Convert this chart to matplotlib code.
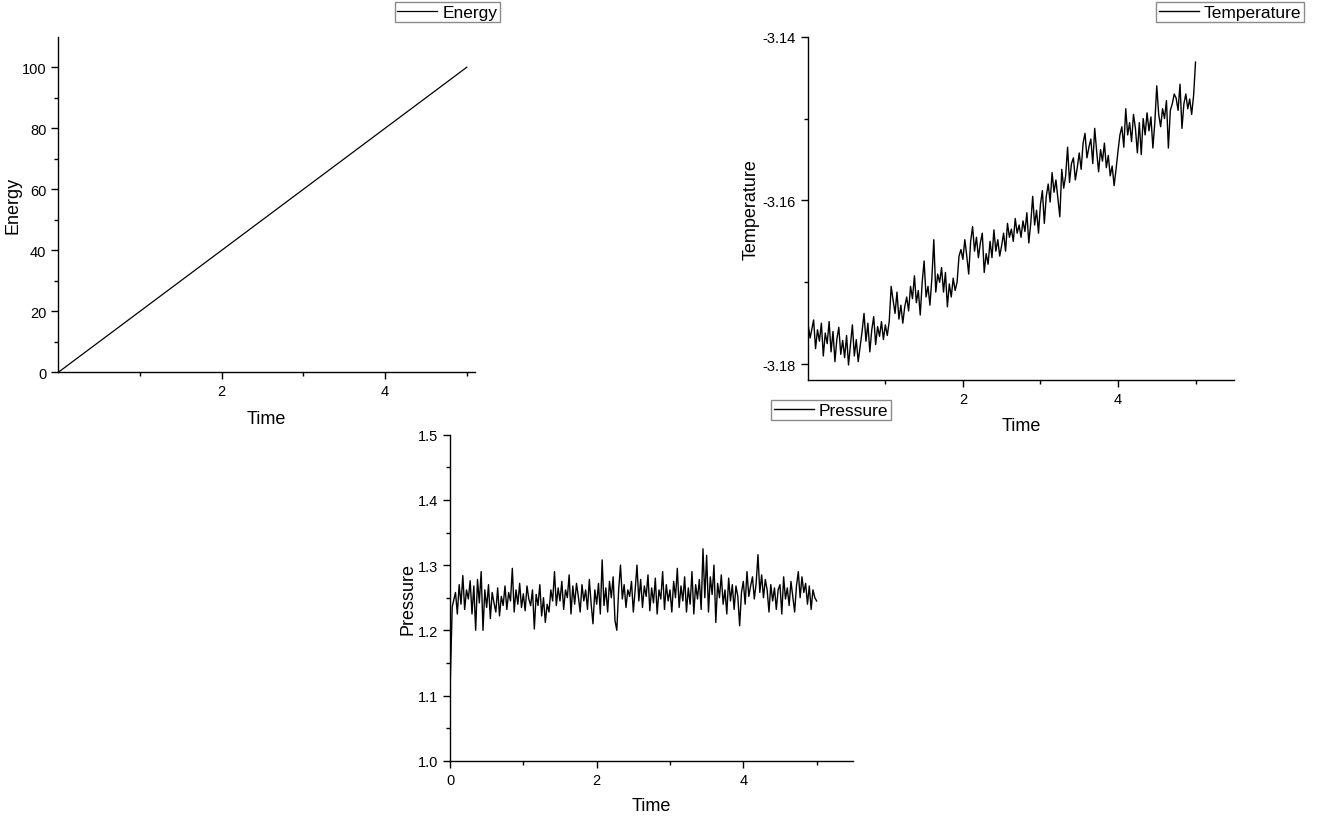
import matplotlib
matplotlib.use("Agg")
import matplotlib.pyplot as plt
from matplotlib.ticker import FixedLocator

plt.rcParams['font.family'] = ['Liberation Sans', 'DejaVu Sans']

# data
energy_time = [0.0, 5.0]
energy = [0.0, 100.0]

# first samples sit right on the axis (start-up spike)
step_time = [0.0, 0.004, 0.03] + [i * 0.025 for i in range(3, 201)]

temperature = [
    -3.1607, -3.1752, -3.1768, -3.1746, -3.1781, -3.1758, -3.1772, -3.1750, -3.1790, -3.1762,
    -3.1775, -3.1748, -3.1785, -3.1760, -3.1797, -3.1769, -3.1755, -3.1788, -3.1771, -3.1792,
    -3.1765, -3.1801, -3.1776, -3.1752, -3.1790, -3.1770, -3.1797, -3.1779, -3.1760, -3.1738,
    -3.1772, -3.1750, -3.1785, -3.1758, -3.1742, -3.1776, -3.1754, -3.1766, -3.1748, -3.1770,
    -3.1752, -3.1765, -3.1748, -3.1705, -3.1722, -3.1738, -3.1712, -3.1745, -3.1728, -3.1750,
    -3.1730, -3.1718, -3.1735, -3.1705, -3.1720, -3.1692, -3.1725, -3.1710, -3.1740, -3.1700,
    -3.1674, -3.1718, -3.1705, -3.1728, -3.1695, -3.1648, -3.1712, -3.1690, -3.1700, -3.1682,
    -3.1712, -3.1688, -3.1730, -3.1702, -3.1718, -3.1695, -3.1710, -3.1700, -3.1668, -3.1660,
    -3.1672, -3.1648, -3.1668, -3.1690, -3.1650, -3.1632, -3.1662, -3.1645, -3.1670, -3.1652,
    -3.1640, -3.1688, -3.1665, -3.1678, -3.1650, -3.1670, -3.1636, -3.1662, -3.1648, -3.1668,
    -3.1655, -3.1640, -3.1662, -3.1628, -3.1645, -3.1635, -3.1650, -3.1622, -3.1640, -3.1630,
    -3.1645, -3.1625, -3.1638, -3.1615, -3.1652, -3.1628, -3.1595, -3.1630, -3.1612, -3.1640,
    -3.1605, -3.1588, -3.1628, -3.1595, -3.1580, -3.1602, -3.1566, -3.1590, -3.1575, -3.1598,
    -3.1620, -3.1562, -3.1585, -3.1570, -3.1535, -3.1578, -3.1555, -3.1548, -3.1575, -3.1560,
    -3.1542, -3.1562, -3.1530, -3.1518, -3.1548, -3.1535, -3.1525, -3.1555, -3.1512, -3.1540,
    -3.1565, -3.1538, -3.1552, -3.1530, -3.1560, -3.1545, -3.1570, -3.1558, -3.1582, -3.1562,
    -3.1540, -3.1520, -3.1510, -3.1535, -3.1488, -3.1520, -3.1505, -3.1528, -3.1495, -3.1512,
    -3.1542, -3.1505, -3.1544, -3.1500, -3.1520, -3.1493, -3.1515, -3.1498, -3.1536, -3.1505,
    -3.1460, -3.1495, -3.1510, -3.1488, -3.1500, -3.1478, -3.1536, -3.1490, -3.1482, -3.1470,
    -3.1475, -3.1490, -3.1458, -3.1512, -3.1482, -3.1470, -3.1488, -3.1476, -3.1495, -3.1472,
    -3.1431,
]

pressure = [
    1.388, 1.123, 1.236, 1.258, 1.225, 1.270, 1.240, 1.284, 1.232, 1.262,
    1.248, 1.276, 1.225, 1.268, 1.200, 1.278, 1.242, 1.290, 1.200, 1.262,
    1.235, 1.270, 1.218, 1.258, 1.242, 1.228, 1.265, 1.222, 1.252, 1.238,
    1.268, 1.232, 1.258, 1.245, 1.295, 1.228, 1.262, 1.240, 1.272, 1.235,
    1.256, 1.230, 1.268, 1.248, 1.238, 1.262, 1.202, 1.255, 1.238, 1.270,
    1.222, 1.250, 1.212, 1.240, 1.228, 1.262, 1.245, 1.290, 1.238, 1.265,
    1.245, 1.275, 1.232, 1.262, 1.250, 1.285, 1.225, 1.268, 1.240, 1.272,
    1.252, 1.228, 1.270, 1.245, 1.262, 1.232, 1.278, 1.240, 1.210, 1.262,
    1.240, 1.272, 1.225, 1.308, 1.238, 1.265, 1.228, 1.275, 1.250, 1.282,
    1.215, 1.200, 1.262, 1.300, 1.248, 1.270, 1.235, 1.262, 1.252, 1.275,
    1.228, 1.262, 1.300, 1.245, 1.278, 1.235, 1.268, 1.252, 1.285, 1.230,
    1.265, 1.242, 1.280, 1.225, 1.262, 1.248, 1.290, 1.232, 1.270, 1.245,
    1.262, 1.228, 1.275, 1.250, 1.295, 1.235, 1.268, 1.245, 1.282, 1.228,
    1.265, 1.240, 1.290, 1.225, 1.270, 1.248, 1.278, 1.232, 1.325, 1.250,
    1.315, 1.228, 1.282, 1.255, 1.300, 1.212, 1.272, 1.250, 1.285, 1.240,
    1.262, 1.225, 1.280, 1.245, 1.270, 1.232, 1.268, 1.252, 1.207, 1.258,
    1.275, 1.240, 1.290, 1.252, 1.268, 1.282, 1.248, 1.272, 1.316, 1.258,
    1.285, 1.250, 1.278, 1.262, 1.228, 1.270, 1.245, 1.265, 1.232, 1.262,
    1.270, 1.225, 1.282, 1.248, 1.265, 1.238, 1.275, 1.252, 1.228, 1.268,
    1.290, 1.250, 1.282, 1.258, 1.272, 1.240, 1.268, 1.232, 1.262, 1.250,
    1.245,
]

W, H = 1338, 820
fig = plt.figure(figsize=(W / 100, H / 100), dpi=100)


def box(l, t, r, b):
    return [l / W, 1 - b / H, (r - l) / W, (b - t) / H]


def style(ax, xmaj, xmin_, ymaj, ymin_, xlim, ylim, xlabel, ylabel,
          yfmt=None, xpad=7, ypad=4):
    for s in ['top', 'right']:
        ax.spines[s].set_visible(False)
    for s in ['left', 'bottom']:
        ax.spines[s].set_linewidth(1.0)
    ax.set_xlim(*xlim)
    ax.set_ylim(*ylim)
    ax.xaxis.set_major_locator(FixedLocator(xmaj))
    ax.xaxis.set_minor_locator(FixedLocator(xmin_))
    ax.yaxis.set_major_locator(FixedLocator(ymaj))
    ax.yaxis.set_minor_locator(FixedLocator(ymin_))
    if yfmt:
        ax.set_yticklabels([yfmt.format(v) for v in ymaj])
    ax.set_xticklabels([str(v) for v in xmaj])
    ax.tick_params(which='major', direction='out', length=5, width=1, labelsize=10.5)
    ax.tick_params(which='minor', direction='out', length=3, width=1)
    ax.set_xlabel(xlabel, fontsize=13, labelpad=xpad)
    ax.set_ylabel(ylabel, fontsize=13, labelpad=ypad)


def legend(ax, x, y):
    leg = ax.legend(loc='upper right', bbox_to_anchor=(x / W, 1 - y / H),
                    bbox_transform=fig.transFigure, fontsize=12.5, frameon=True,
                    fancybox=False, borderpad=0.15, handlelength=2.3,
                    handletextpad=0.3, borderaxespad=0)
    leg.get_frame().set_edgecolor('#6e6e6e')
    leg.get_frame().set_linewidth(1.0)


# Energy
ax1 = fig.add_axes(box(58.3, 37.7, 475, 373.3))
ax1.plot(energy_time, energy, color='black', lw=0.9, label='Energy')
style(ax1, [2, 4], [1, 3, 5], [0, 20, 40, 60, 80, 100], [10, 30, 50, 70, 90],
      (0, 5.1), (0, 110), 'Time', 'Energy', xpad=8.5, ypad=0.5)
legend(ax1, 500, 3)

# Temperature
ax2 = fig.add_axes(box(807.8, 37.7, 1234.3, 380.7))
ax2.plot(step_time, temperature, color='black', lw=1.0, label='Temperature')
style(ax2, [2, 4], [1, 3, 5], [-3.18, -3.16, -3.14], [-3.17, -3.15],
      (0, 5.5), (-3.1819, -3.14), 'Time', 'Temperature', yfmt='{:.2f}',
      xpad=8.5, ypad=2.5)
legend(ax2, 1304, 3)

# Pressure
ax3 = fig.add_axes(box(450, 435.7, 853.3, 761.7))
ax3.plot(step_time, pressure, color='black', lw=1.0, label='Pressure')
style(ax3, [0, 2, 4], [1, 3, 5], [1.0, 1.1, 1.2, 1.3, 1.4, 1.5],
      [1.05, 1.15, 1.25, 1.35, 1.45], (0, 5.5), (1.0, 1.5), 'Time', 'Pressure',
      yfmt='{:.1f}', xpad=7.5, ypad=1)
legend(ax3, 891, 401)

fig.savefig('out.png', dpi=100)
